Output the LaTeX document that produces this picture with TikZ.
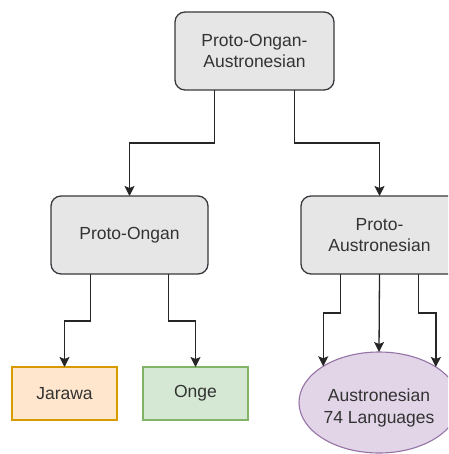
\documentclass[tikz,border=0pt]{standalone}
\usepackage{fontspec}
\setmainfont{Liberation Sans}
\usetikzlibrary{shapes.geometric,arrows.meta,calc}
\definecolor{boxfill}{HTML}{E6E6E6}
\definecolor{boxline}{HTML}{36393D}
\definecolor{orfill}{HTML}{FFE6CC}
\definecolor{orline}{HTML}{D79B00}
\definecolor{grfill}{HTML}{D5E8D4}
\definecolor{grline}{HTML}{82B366}
\definecolor{pufill}{HTML}{E1D5E7}
\definecolor{puline}{HTML}{9673A6}
\definecolor{txt}{HTML}{333333}
\tikzset{
  every node/.style={font=\fontsize{17.5}{21.5}\selectfont, text=txt, align=center},
  protobox/.style={draw=boxline, fill=boxfill, line width=1.3pt, rounded corners=10pt,
    minimum width=157pt, minimum height=78pt, inner sep=0pt, outer sep=0pt},
  leafbox/.style={line width=1.1pt, minimum width=105pt, minimum height=53pt,
    inner sep=0pt, outer sep=0pt},
  arr/.style={draw=black!85, line width=1.3pt,
    -{Stealth[length=10pt,width=10pt,inset=2pt]}},
}
\begin{document}
\begin{tikzpicture}[x=1pt,y=-1pt]
\useasboundingbox (0,0) rectangle (448,454);
\clip (0,0) rectangle (448,454);

% ancestor and intermediate nodes
\node[protobox, minimum width=159pt] (top) at (254.5,51) {Proto-Ongan-\\Austronesian};
\node[protobox] (ongan) at (129.5,235) {Proto-Ongan};
\node[protobox] (austro) at (379.5,235) {Proto-\\Austronesian};

% daughter languages
\node[leafbox, draw=orline, fill=orfill] (jarawa) at (64.5,393.5) {Jarawa};
\node[leafbox, draw=grline, fill=grfill] (onge) at (195.5,393.5) {Onge};
\node[ellipse, draw=puline, fill=pufill, line width=1.1pt, minimum width=160pt,
  minimum height=101pt, inner sep=0pt, outer sep=0pt] (an) at (379,402.5)
  {\rule{0pt}{24pt}Austronesian\\74 Languages};

% exit points on the bottom edges
\coordinate (t1) at ($(top.south west)!.25!(top.south east)$);
\coordinate (t2) at ($(top.south west)!.75!(top.south east)$);
\coordinate (o1) at ($(ongan.south west)!.25!(ongan.south east)$);
\coordinate (o2) at ($(ongan.south west)!.75!(ongan.south east)$);
\coordinate (a1) at ($(austro.south west)!.25!(austro.south east)$);
\coordinate (a3) at ($(austro.south west)!.75!(austro.south east)$);

% connectors
\draw[arr] (t1) -- (t1 |- 0,143) -| (ongan.north);
\draw[arr] (t2) -- (t2 |- 0,143) -| (austro.north);
\draw[arr] (o1) -- (o1 |- 0,321) -| (jarawa.north);
\draw[arr] (o2) -- (o2 |- 0,321) -| (onge.north);
\draw[arr] (a1) -- (a1 |- 0,313) -| (an.147.3);
\draw[arr] (austro.south) -- (an.north);
\draw[arr] (a3) -- (a3 |- 0,313) -| (an.32.7);
\end{tikzpicture}
\end{document}
